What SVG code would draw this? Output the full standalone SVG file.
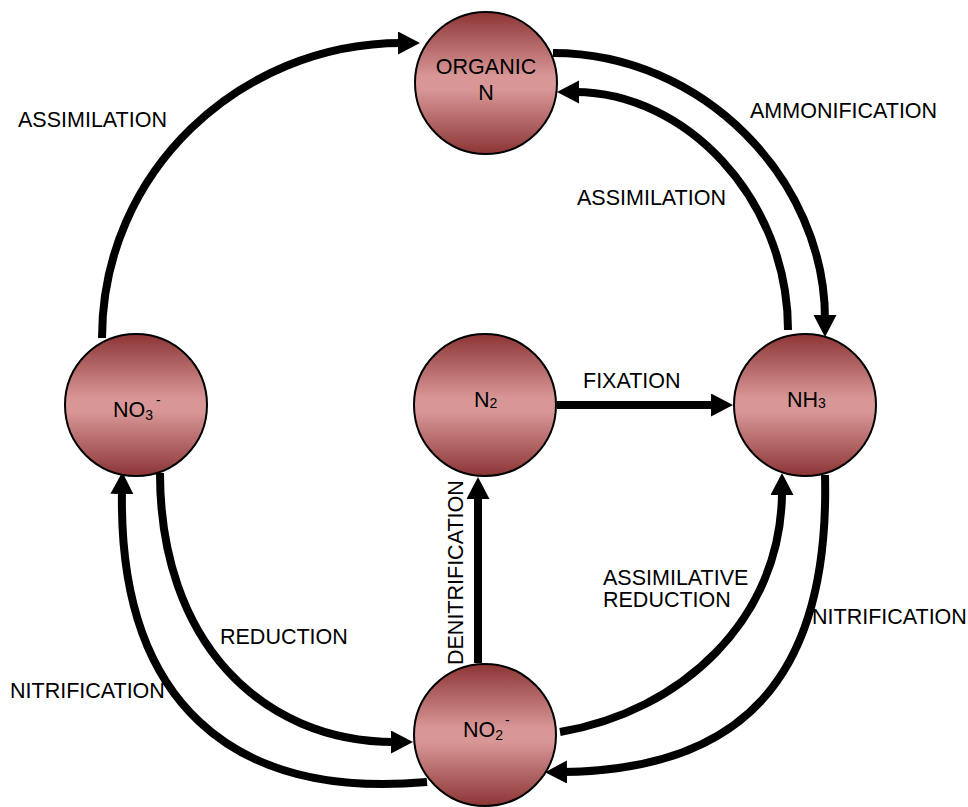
<svg xmlns="http://www.w3.org/2000/svg" width="968" height="807" viewBox="0 0 968 807">
<style>
.node circle{stroke:#000;stroke-width:2;fill:url(#g)}
.t{font-family:"Liberation Sans",Arial,sans-serif;font-size:21.5px;fill:#000}
.c{fill:none;stroke:#000;stroke-width:8;marker-end:url(#a)}
</style>
<defs>
<linearGradient id="g" x1="0" y1="0" x2="0" y2="1">
<stop offset="0" stop-color="#8c3535"/>
<stop offset="0.45" stop-color="#d89696"/>
<stop offset="0.55" stop-color="#d89696"/>
<stop offset="1" stop-color="#8c3535"/>
</linearGradient>
<marker id="a" markerUnits="userSpaceOnUse" markerWidth="24" markerHeight="24" refX="4" refY="11.5" orient="auto">
<path d="M0,0 L22,11.5 L0,23 z" fill="#000"/>
</marker>
</defs>
<rect width="968" height="807" fill="#fff"/>
<g id="connectors">
<path class="c" d="M102,338 C102,172 240,43 402,43"/>
<path class="c" d="M553,53 C703,53 825,180 825,319"/>
<path class="c" d="M788,330 C788,198 685,92 575,92"/>
<path class="c" d="M427,782 C230,800 118,700 122,490"/>
<path class="c" d="M160,473 C160,640 260,742 395,742"/>
<path class="c" d="M560,732 C680,712 782,620 782,491"/>
<path class="c" d="M825,475 C830,680 740,770 563,772"/>
<path class="c" d="M557,405 L715,405"/>
<path class="c" d="M478,663 L478,495"/>
</g>
<g id="labels">
<text class="t" x="18" y="127">ASSIMILATION</text>
<text class="t" x="750" y="118">AMMONIFICATION</text>
<text class="t" x="577" y="205">ASSIMILATION</text>
<text class="t" x="583" y="388">FIXATION</text>
<text class="t" transform="translate(463,665) rotate(-90)">DENITRIFICATION</text>
<text class="t" x="220" y="644">REDUCTION</text>
<text class="t" x="10" y="698">NITRIFICATION</text>
<text class="t" x="603" y="585">ASSIMILATIVE</text>
<text class="t" x="603" y="607">REDUCTION</text>
<text class="t" x="812" y="624">NITRIFICATION</text>
</g>
<g id="organic-n" class="node">
<circle cx="486" cy="83" r="71"/>
<text class="t" x="486" y="74" text-anchor="middle">ORGANIC</text>
<text class="t" x="486" y="100" text-anchor="middle">N</text>
</g>
<g id="no3" class="node">
<circle cx="136" cy="405" r="71"/>
<text class="t" x="113" y="417">NO<tspan font-size="14" dy="3">3</tspan><tspan font-size="14" dy="-15" dx="3">-</tspan></text>
</g>
<g id="n2" class="node">
<circle cx="485" cy="405" r="71"/>
<text class="t" x="474" y="407">N<tspan font-size="14" dy="1">2</tspan></text>
</g>
<g id="nh3" class="node">
<circle cx="805" cy="405" r="71"/>
<text class="t" x="787" y="407">NH<tspan font-size="14" dy="1">3</tspan></text>
</g>
<g id="no2" class="node">
<circle cx="485" cy="735" r="71"/>
<text class="t" x="463" y="737">NO<tspan font-size="14" dy="3">2</tspan><tspan font-size="14" dy="-15" dx="2">-</tspan></text>
</g>
</svg>
